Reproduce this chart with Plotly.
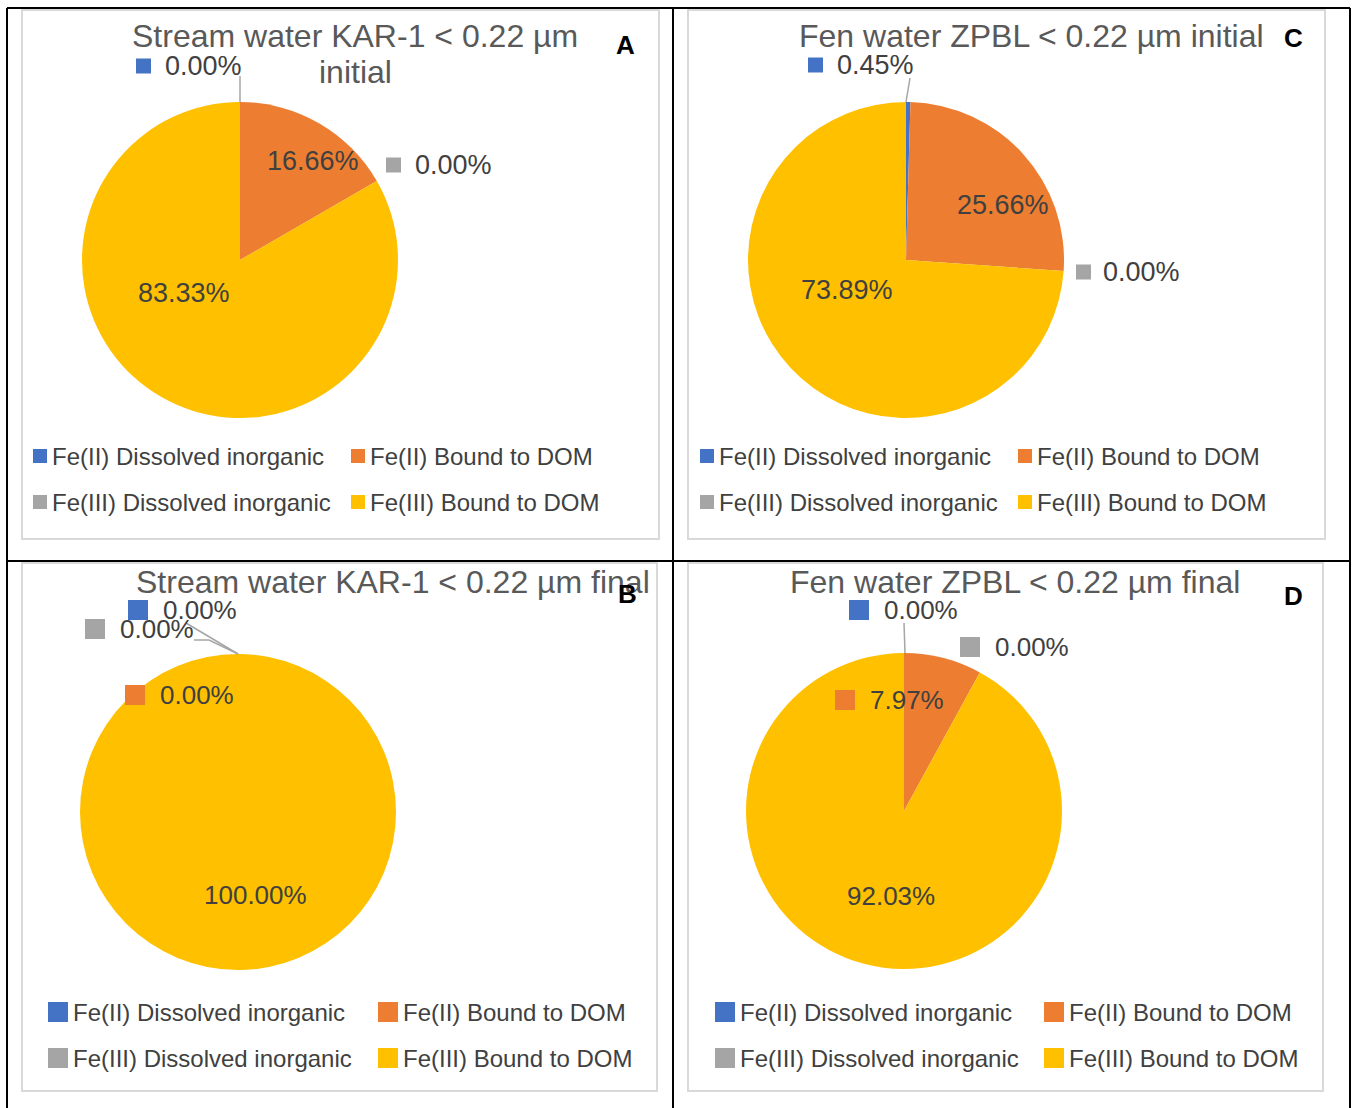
import plotly.graph_objects as go

W, H = 1355, 1108

# ---------------- data ----------------
categories = ["Fe(II) Dissolved inorganic", "Fe(II) Bound to DOM",
              "Fe(III) Dissolved inorganic", "Fe(III) Bound to DOM"]
colors = ["#4472C4", "#ED7D31", "#A5A5A5", "#FFC000"]

values_A = [0.00, 16.66, 0.00, 83.33]
values_B = [0.00, 0.00, 0.00, 100.00]
values_C = [0.45, 25.66, 0.00, 73.89]
values_D = [0.00, 7.97, 0.00, 92.03]

title_A = "Stream water KAR-1 < 0.22 µm<br>initial"
title_B = "Stream water KAR-1 < 0.22 µm final"
title_C = "Fen water ZPBL < 0.22 µm initial"
title_D = "Fen water ZPBL < 0.22 µm final"

FONT = "Arial, Liberation Sans, sans-serif"
TITLE_C = "#595959"
LABEL_C = "#404040"
LEGEND_C = "#404040"


def px(x):
    return x / W


def py(y):
    return 1 - y / H


# ---------------- layout geometry (pixels) ----------------
panels = [
    dict(letter="A", values=values_A, title=title_A,
         center=(240, 260), r=158,
         frame=(22, 10, 659, 539),
         title_pos=(355, 36), letter_pos=(625, 45),
         lab_size=27, key=15,
         labels={0: ("key", 136, 66, 163), 1: ("in", 313, 161),
                 2: ("key", 386, 165, 413), 3: ("in", 184, 293)},
         leaders=[[(240, 76), (240, 102)]],
         legend=dict(cols=(33, 351), rows=(456, 502), key=14, gap=5)),
    dict(letter="C", values=values_C, title=title_C,
         center=(906, 260), r=158,
         frame=(688, 10, 1325, 539),
         title_pos=(1031, 36), letter_pos=(1293, 38),
         lab_size=27, key=15,
         labels={0: ("key", 808, 65, 835), 1: ("in", 1003, 205),
                 2: ("key", 1076, 272, 1101), 3: ("in", 847, 290)},
         leaders=[[(910, 78), (906, 102)]],
         legend=dict(cols=(700, 1018), rows=(456, 502), key=14, gap=5)),
    dict(letter="B", values=values_B, title=title_B,
         center=(238, 812), r=158,
         frame=(22, 563, 657, 1091),
         title_pos=(393, 582), letter_pos=(627, 594),
         lab_size=26, key=20,
         labels={0: ("key", 128, 610, 161), 2: ("key", 85, 629, 118),
                 1: ("key", 125, 695, 158), 3: ("in", 255, 895)},
         leaders=[[(186, 623), (238, 654)], [(194, 640), (209, 640), (238, 654)]],
         legend=dict(cols=(48, 378), rows=(1012, 1058), key=20, gap=5)),
    dict(letter="D", values=values_D, title=title_D,
         center=(904, 811), r=158,
         frame=(688, 563, 1323, 1091),
         title_pos=(1015, 582), letter_pos=(1293, 596),
         lab_size=26, key=20,
         labels={0: ("key", 849, 610, 882), 2: ("key", 960, 647, 993),
                 1: ("key", 835, 700, 868), 3: ("in", 891, 896)},
         leaders=[[(904, 623), (905, 653)]],
         legend=dict(cols=(715, 1044), rows=(1012, 1058), key=20, gap=5)),
]

TITLE_LINE_GAP = 36

fig = go.Figure()
shapes = []
annotations = []

# table grid (black)
grid_lines = [
    ((7, 8), (7, 1108)), ((7, 8), (1350, 8)), ((1350, 8), (1350, 1108)),
    ((673, 8), (673, 1108)), ((7, 561), (1350, 561)),
]
for (x0, y0), (x1, y1) in grid_lines:
    shapes.append(dict(type="line", xref="paper", yref="paper",
                       x0=px(x0), y0=py(y0), x1=px(x1), y1=py(y1),
                       line=dict(color="#000000", width=2), layer="above"))

for p in panels:
    cx, cy = p["center"]
    r = p["r"]
    # chart frame
    fx0, fy0, fx1, fy1 = p["frame"]
    shapes.append(dict(type="rect", xref="paper", yref="paper",
                       x0=px(fx0), y0=py(fy1), x1=px(fx1), y1=py(fy0),
                       line=dict(color="#D9D9D9", width=2), layer="below"))
    # pie
    fig.add_trace(go.Pie(
        labels=categories, values=p["values"],
        marker=dict(colors=colors, line=dict(width=0)),
        sort=False, direction="clockwise", rotation=0,
        textinfo="none", showlegend=False,
        domain=dict(x=[px(cx - r), px(cx + r)], y=[py(cy + r), py(cy - r)]),
        hovertemplate="%{label}: %{value:.2f}%<extra></extra>",
    ))
    # title (one annotation per line for tighter line spacing)
    tx, ty = p["title_pos"]
    for li, line in enumerate(p["title"].split("<br>")):
        annotations.append(dict(text=line, x=px(tx), y=py(ty + li * TITLE_LINE_GAP),
                                xref="paper", yref="paper",
                                xanchor="center", yanchor="middle", showarrow=False,
                                font=dict(family=FONT, size=32, color=TITLE_C)))
    # panel letter
    lx, ly = p["letter_pos"]
    annotations.append(dict(text="<b>%s</b>" % p["letter"], x=px(lx), y=py(ly),
                            xref="paper", yref="paper", xanchor="center", yanchor="middle",
                            showarrow=False, font=dict(family=FONT, size=26, color="#000000")))
    # data labels
    for i, spec in p["labels"].items():
        txt = "%.2f%%" % p["values"][i]
        if spec[0] == "in":
            annotations.append(dict(text=txt, x=px(spec[1]), y=py(spec[2]), xref="paper", yref="paper",
                                    xanchor="center", yanchor="middle", showarrow=False,
                                    font=dict(family=FONT, size=p["lab_size"], color=LABEL_C)))
        else:
            _, kx, ky, txl = spec
            k = p["key"]
            shapes.append(dict(type="rect", xref="paper", yref="paper",
                               x0=px(kx), x1=px(kx + k), y0=py(ky + k / 2), y1=py(ky - k / 2),
                               fillcolor=colors[i], line=dict(width=0), layer="above"))
            annotations.append(dict(text=txt, x=px(txl), y=py(ky), xref="paper", yref="paper",
                                    xanchor="left", yanchor="middle", showarrow=False,
                                    font=dict(family=FONT, size=p["lab_size"], color=LABEL_C)))
    # leader lines
    for pts in p["leaders"]:
        path = "M " + " L ".join("%f,%f" % (px(x), py(y)) for x, y in pts)
        shapes.append(dict(type="path", xref="paper", yref="paper", path=path,
                           line=dict(color="#A6A6A6", width=1.5), layer="above"))
    # legend (built from categories / colors)
    lg = p["legend"]
    for i, cat in enumerate(categories):
        col = lg["cols"][i % 2]
        row = lg["rows"][i // 2]
        k = lg["key"]
        shapes.append(dict(type="rect", xref="paper", yref="paper",
                           x0=px(col), x1=px(col + k), y0=py(row + k / 2), y1=py(row - k / 2),
                           fillcolor=colors[i], line=dict(width=0), layer="above"))
        annotations.append(dict(text=cat, x=px(col + k + lg["gap"] - 2), y=py(row),
                                xref="paper", yref="paper", xanchor="left", yanchor="middle",
                                showarrow=False, font=dict(family=FONT, size=24, color=LEGEND_C)))

fig.update_layout(
    width=W, height=H,
    margin=dict(l=0, r=0, t=0, b=0),
    paper_bgcolor="#FFFFFF", plot_bgcolor="#FFFFFF",
    shapes=shapes, annotations=annotations,
    showlegend=False,
)

fig.write_html("out.html", config={"displayModeBar": False},
               post_script="document.body.style.margin='0px';document.body.style.padding='0px';")
